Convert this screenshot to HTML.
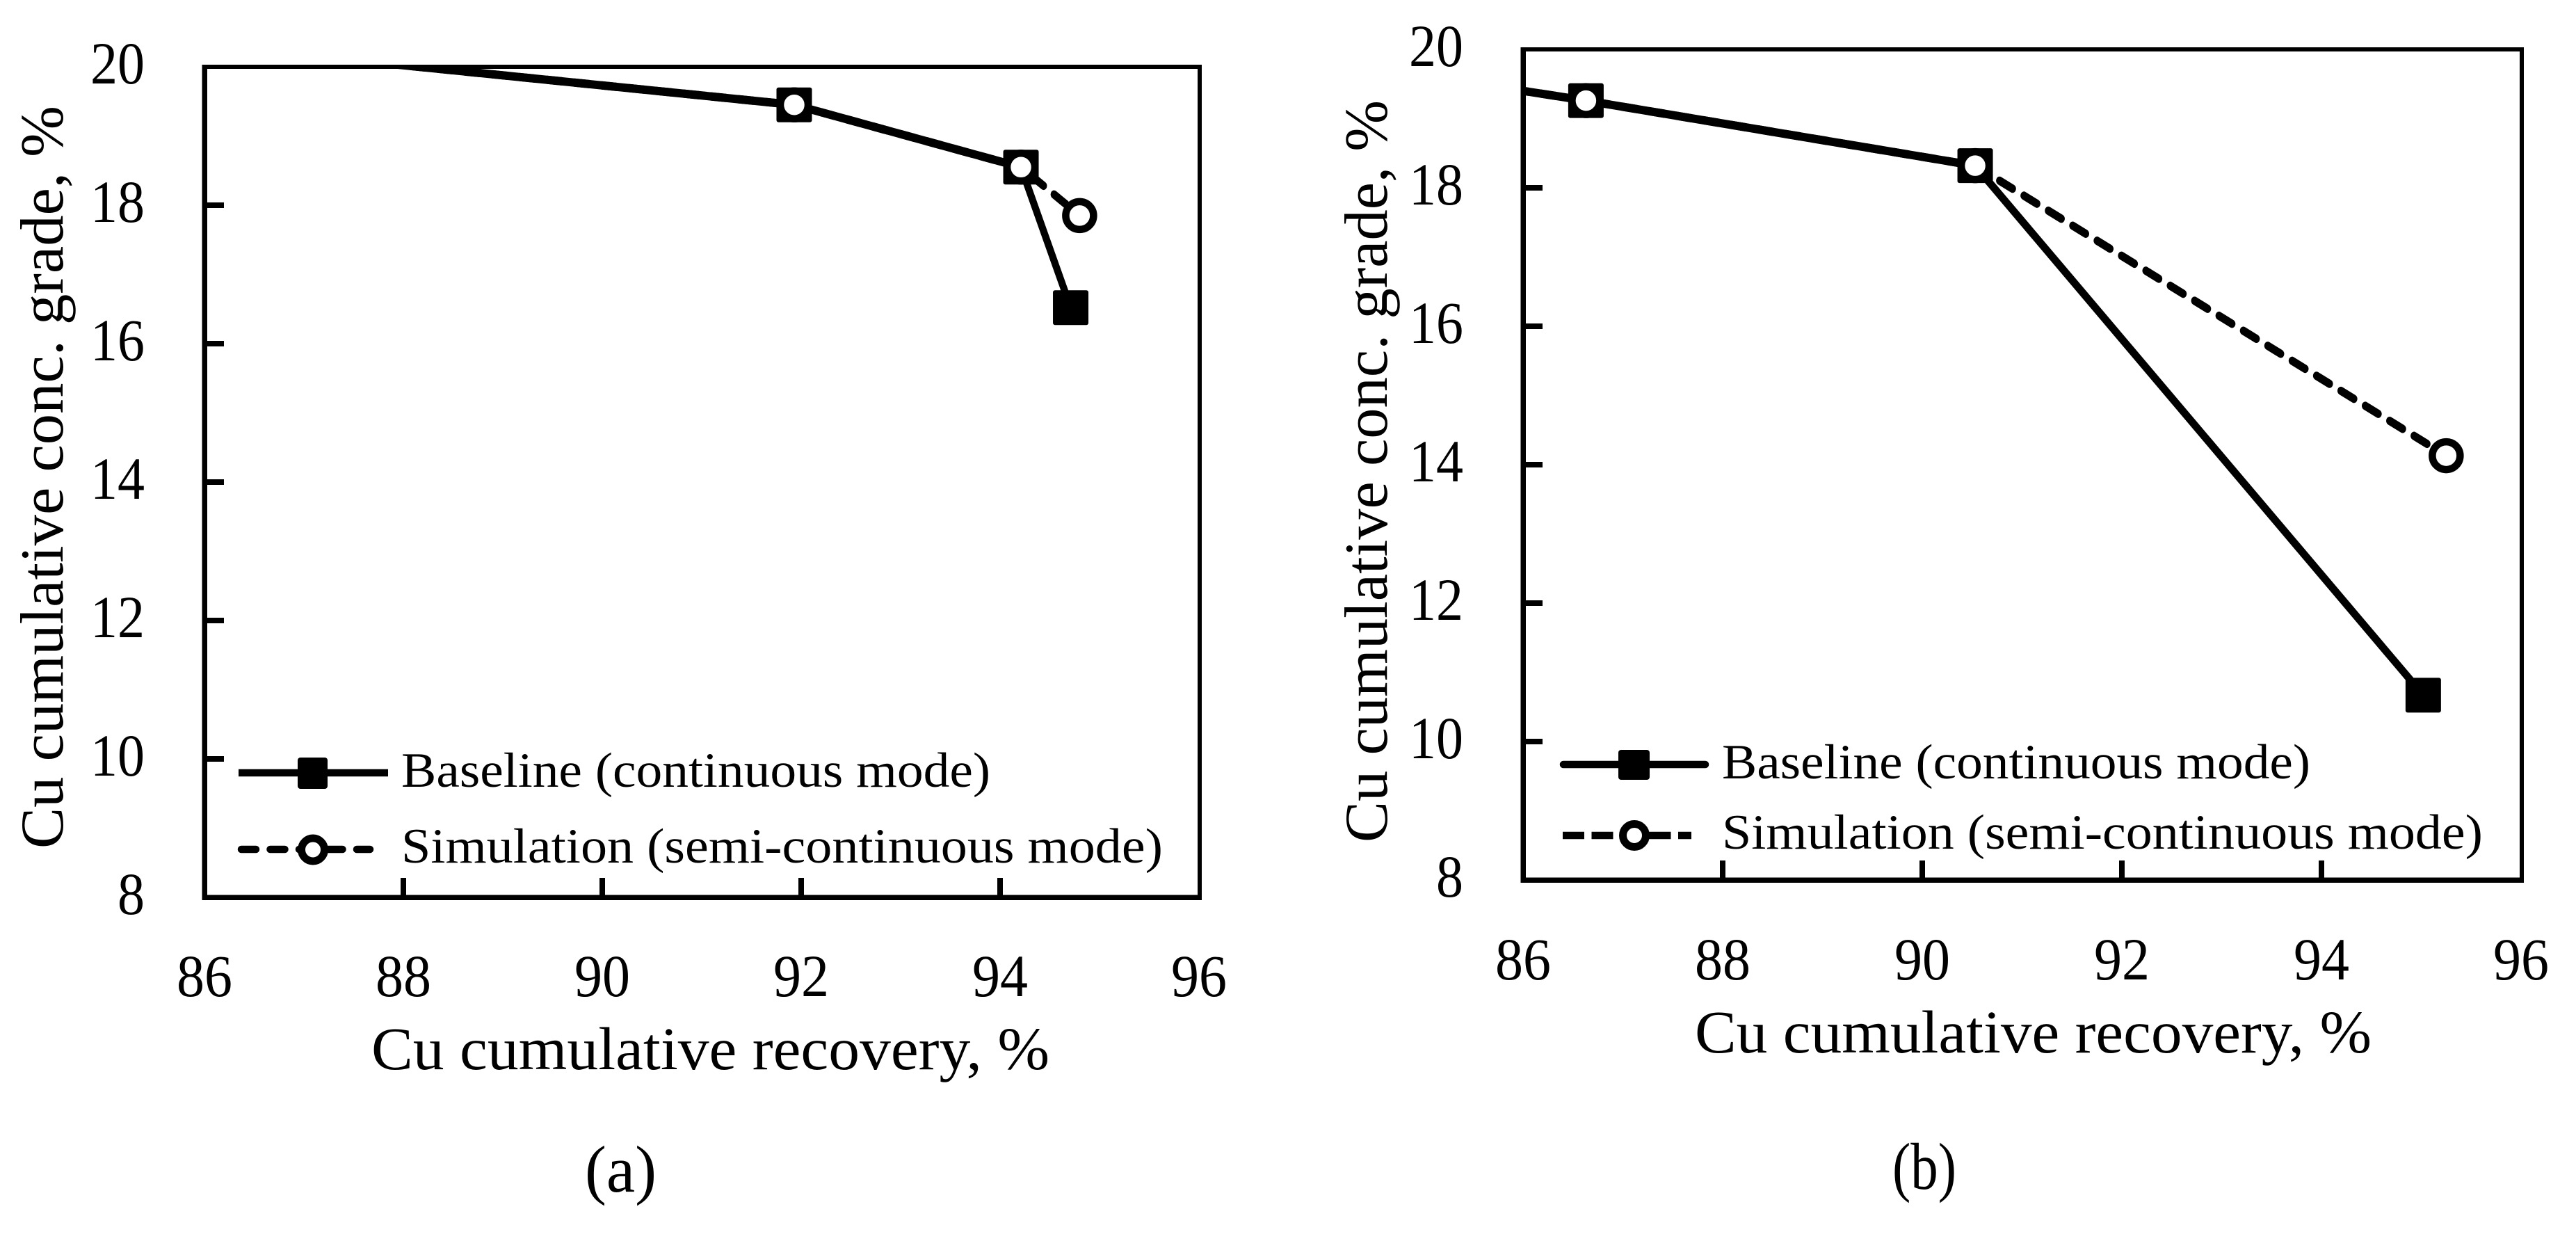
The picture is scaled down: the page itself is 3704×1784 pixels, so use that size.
<!DOCTYPE html>
<html lang="en">
<head>
<meta charset="utf-8">
<title>Cu cumulative grade vs recovery</title>
<style>
html,body{margin:0;padding:0;background:#fff;}
svg{display:block;}
text{font-family:"Liberation Serif",serif;fill:#000;}
</style>
</head>
<body>
<svg id="figure" xmlns="http://www.w3.org/2000/svg" width="3704" height="1784" viewBox="0 0 3704 1784">
  <rect x="0" y="0" width="3704" height="1784" fill="#fff"/>

  <g id="panel-a"></g>
  <g id="panel-b"></g>

  <text transform="translate(90,1220) rotate(-90)" font-size="88" textLength="1068" lengthAdjust="spacingAndGlyphs">Cu cumulative conc. grade, %</text>
  <text x="534" y="1537" font-size="87" textLength="975" lengthAdjust="spacingAndGlyphs">Cu cumulative recovery, %</text>
  <text x="841" y="1713" font-size="95" textLength="103" lengthAdjust="spacingAndGlyphs">(a)</text>

  <text transform="translate(1994,1211) rotate(-90)" font-size="88" textLength="1067" lengthAdjust="spacingAndGlyphs">Cu cumulative conc. grade, %</text>
  <text x="2437" y="1513" font-size="87" textLength="973" lengthAdjust="spacingAndGlyphs">Cu cumulative recovery, %</text>
  <text x="2721" y="1709" font-size="95" textLength="92" lengthAdjust="spacingAndGlyphs">(b)</text>

  <g>
    <g>
      <line x1="343" y1="1111" x2="558" y2="1111" stroke="#000" stroke-width="10.5"/>
      <rect x="428" y="1089" width="43" height="45" rx="4" fill="#000"/>
      <text x="577" y="1131" font-size="71" textLength="847" lengthAdjust="spacingAndGlyphs">Baseline (continuous mode)</text>
    </g>
    <g>
      <line x1="347" y1="1221" x2="532" y2="1221" stroke="#000" stroke-width="10.5" stroke-linecap="round" stroke-dasharray="21 20.5"/>
      <ellipse cx="450" cy="1221.5" rx="16.5" ry="16.5" fill="#fff" stroke="#000" stroke-width="11"/>
      <text x="577" y="1240" font-size="71" textLength="1095" lengthAdjust="spacingAndGlyphs">Simulation (semi-continuous mode)</text>
    </g>
  </g>

  <g>
    <g>
      <line x1="2248" y1="1099" x2="2452" y2="1099" stroke="#000" stroke-width="10.5" stroke-linecap="round"/>
      <rect x="2327" y="1078" width="45" height="43" rx="4" fill="#000"/>
      <text x="2476" y="1119" font-size="71" textLength="846" lengthAdjust="spacingAndGlyphs">Baseline (continuous mode)</text>
    </g>
    <g>
      <line x1="2247" y1="1201" x2="2432" y2="1201" stroke="#000" stroke-width="10.5" stroke-dasharray="31 10.5"/>
      <ellipse cx="2350" cy="1201" rx="16.5" ry="16.5" fill="#fff" stroke="#000" stroke-width="11"/>
      <text x="2476" y="1220" font-size="71" textLength="1094" lengthAdjust="spacingAndGlyphs">Simulation (semi-continuous mode)</text>
    </g>
  </g>
</svg>

<script>
var xTickValues = [86, 88, 90, 92, 94, 96];
var yTickValues = [20, 18, 16, 14, 12, 10, 8];

var panelABaselineX = [86.5, 91.93, 94.21, 94.71];
var panelABaselineY = [20.24, 19.45, 18.55, 16.52];
var panelASimulationX = [86.5, 91.93, 94.21, 94.8];
var panelASimulationY = [20.24, 19.45, 18.55, 17.85];

var panelBBaselineX = [85.6, 86.63, 90.53, 95.02];
var panelBBaselineY = [19.49, 19.26, 18.32, 10.67];
var panelBSimulationX = [85.6, 86.63, 90.53, 95.25];
var panelBSimulationY = [19.49, 19.26, 18.32, 14.13];

var SVGNS = 'http://www.w3.org/2000/svg';
var VERTICAL_STRETCH = 1.2;

function make(tag, attrs, parent) {
  var el = document.createElementNS(SVGNS, tag);
  for (var k in attrs) { el.setAttribute(k, attrs[k]); }
  parent.appendChild(el);
  return el;
}

function drawPanel(id, box, baseX, baseY, simX, simY) {
  var root = document.getElementById(id);
  var xDomain = [xTickValues[0], xTickValues[xTickValues.length - 1]];
  var yDomain = [yTickValues[yTickValues.length - 1], yTickValues[0]];

  function sx(v) { return box.left + (v - xDomain[0]) / (xDomain[1] - xDomain[0]) * (box.right - box.left); }
  function sy(v) { return box.bottom - (v - yDomain[0]) / (yDomain[1] - yDomain[0]) * (box.bottom - box.top); }
  function inDomain(x, y) { return x > xDomain[0] && x < xDomain[1] && y > yDomain[0] && y < yDomain[1]; }

  var clipId = id + '-clip';
  var defs = make('defs', {}, root);
  var clip = make('clipPath', { id: clipId }, defs);
  make('rect', { x: box.left, y: box.top, width: box.right - box.left, height: box.bottom - box.top }, clip);

  var axes = make('g', {}, root);
  
  

  var frameTop = make('rect', { x: box.left - 3.5, y: box.top - 3, width: box.right - box.left + 7, height: 6, fill: '#000' }, axes);
  
  

  var frameRight = make('rect', { x: box.right - 2, y: box.top - 3, width: 6, height: box.bottom - box.top + 6, fill: '#000' }, axes);
  
  

  var frameLeft = make('rect', { x: box.left - 3.5, y: box.top - 3, width: 7.5, height: box.bottom - box.top + 6.5, fill: '#000' }, axes);
  
  

  var frameBottom = make('rect', { x: box.left - 3.5, y: box.bottom - 3.5, width: box.right - box.left + 7.5, height: 7.5, fill: '#000' }, axes);
  
  

  xTickValues.forEach(function (v, i) {
    if (i > 0 && i < xTickValues.length - 1) {
      var t = make('rect', { x: sx(v) - 4, y: box.bottom - 28, width: 8, height: 28, fill: '#000' }, axes);
      
      
    }
    var lab = make('text', { x: sx(v), y: box.xLabelBaseline, 'font-size': 86, 'text-anchor': 'middle', textLength: 80, lengthAdjust: 'spacingAndGlyphs' }, axes);
    lab.textContent = String(v);
    
    
  });

  yTickValues.forEach(function (v, i) {
    if (i > 0 && i < yTickValues.length - 1) {
      var t = make('rect', { x: box.left, y: sy(v) - 4, width: 28, height: 8, fill: '#000' }, axes);
      
      
    }
    var s = String(v);
    var lab = make('text', { x: box.yLabelRight, y: sy(v) + 24, 'font-size': 86, 'text-anchor': 'end', textLength: s.length * 39, lengthAdjust: 'spacingAndGlyphs' }, axes);
    lab.textContent = s;
    
    
  });

  /* The source image is stretched vertically, so line strokes are drawn in a
     vertically scaled group: flat segments come out thicker than steep ones. */
  function pointsAttr(xs, ys) {
    return xs.map(function (x, i) { return sx(x).toFixed(1) + ',' + (sy(ys[i]) / VERTICAL_STRETCH).toFixed(2); }).join(' ');
  }

  var clipGroup = make('g', { 'clip-path': 'url(#' + clipId + ')' }, root);
  var lineGroup = make('g', { transform: 'scale(1,' + VERTICAL_STRETCH + ')' }, clipGroup);

  var baseLine = make('polyline', { points: pointsAttr(baseX, baseY), fill: 'none', stroke: '#000', 'stroke-width': 10, 'stroke-linejoin': 'round' }, lineGroup);
  
  

  baseX.forEach(function (x, i) {
    if (!inDomain(x, baseY[i])) { return; }
    var m = make('rect', { x: sx(x) - 25.5, y: sy(baseY[i]) - 25, width: 51, height: 50, rx: 3, fill: '#000' }, root);
    
    
  });

  /* dash phase is anchored at the start of the final (diverging) segment */
  var n = simX.length;
  var lead = 0;
  for (var i = 1; i < n - 1; i++) {
    lead += Math.hypot(sx(simX[i]) - sx(simX[i - 1]), (sy(simY[i]) - sy(simY[i - 1])) / VERTICAL_STRETCH);
  }
  var simLine = make('polyline', { points: pointsAttr(simX, simY), fill: 'none', stroke: '#000', 'stroke-width': 10, 'stroke-linecap': 'round', 'stroke-dasharray': '21 18.4', 'stroke-dashoffset': (box.dashPhase - lead).toFixed(1) }, lineGroup);
  
  

  simX.forEach(function (x, i) {
    if (!inDomain(x, simY[i])) { return; }
    var c = make('ellipse', { cx: sx(x), cy: sy(simY[i]), rx: 20, ry: 20, fill: '#fff', stroke: '#000', 'stroke-width': 10.5 }, root);
    
    
  });
}

drawPanel('panel-a', { left: 294, right: 1724, top: 96, bottom: 1290, xLabelBaseline: 1432, yLabelRight: 208, dashPhase: 21 },
  panelABaselineX, panelABaselineY, panelASimulationX, panelASimulationY);
drawPanel('panel-b', { left: 2190, right: 3625, top: 71, bottom: 1265, xLabelBaseline: 1408, yLabelRight: 2104, dashPhase: 0 },
  panelBBaselineX, panelBBaselineY, panelBSimulationX, panelBSimulationY);
</script>
</body>
</html>
